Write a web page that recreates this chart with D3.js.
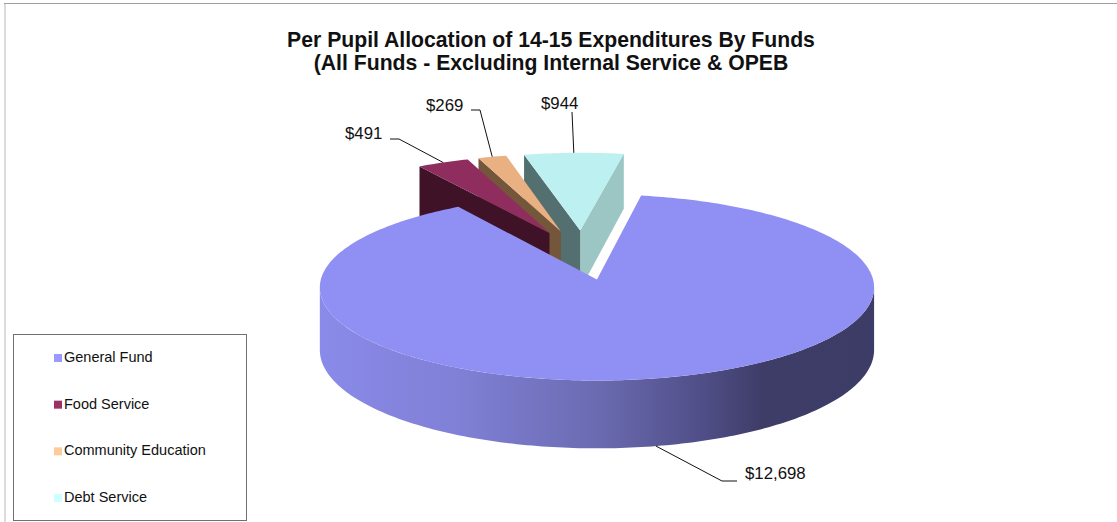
<!DOCTYPE html>
<html>
<head>
<meta charset="utf-8">
<script src="https://cdn.jsdelivr.net/npm/d3@7"></script>
<style>
  html, body { margin: 0; padding: 0; background: #fff; }
  svg { display: block; }
  text { font-family: "Liberation Sans", Arial, sans-serif; fill: #111; }
</style>
</head>
<body>
<div id="chart"></div>
<script>
// chart data
var titleLines = ["Per Pupil Allocation of 14-15 Expenditures By Funds", "(All Funds - Excluding Internal Service & OPEB"];
var categories = ["General Fund", "Food Service", "Community Education", "Debt Service"];
var values = [12698, 491, 269, 944];
var valueLabels = ["$12,698", "$491", "$269", "$944"];
var legendColors = ["#9999ff", "#993366", "#ffcc99", "#ccffff"];
var topColors = ["#9090f4", "#8f2d5f", "#e9b082", "#bdf1f1"];
var leftFaceColors = [null, "#3f1227", "#74563a", "#546f70"];
var rightFaceColors = [null, null, null, "#9cc6c4"];

var W = 1117, H = 522;

var svg = d3.select("#chart").append("svg").attr("width", W).attr("height", H);

// frame, only top and left show in the picture
svg.append("rect").attr("x", 4).attr("y", 3).attr("width", 2).attr("height", H - 3).attr("fill", "#dcdcdc");
svg.append("rect").attr("x", 4).attr("y", 3).attr("width", W - 4).attr("height", 1).attr("fill", "#a0a0a0");

// title
svg.selectAll(".title").data(titleLines).enter().append("text")
    .attr("class", "title")
    .attr("x", 551)
    .attr("y", function(d, i) { return 47 + i * 23; })
    .attr("text-anchor", "middle")
    .style("font-size", "21.2px")
    .style("font-weight", "bold")
    .text(function(d) { return d; });

// pie in plane units, unit circle radius
var toRad = Math.PI / 180;
var pie = d3.pie().sort(null)
    .startAngle(10 * toRad)
    .endAngle(370 * toRad);
var arcs = pie(values);

// perspective view of the plane, front of the pie is bigger than the back
var view = { x: 597, y: 279, ax: 276, ay: 92.3, k: 0.086, depth: 62 };
var explode = 0.28;
var centerU = -0.055, centerV = -0.27; // undisplaced pie centre, relative to the view origin

function project(u, v, low) {
    var w = 1 - view.k * v;
    return [view.x + view.ax * u / w,
            view.y + view.ay * v / w + (low ? view.depth / w : 0)];
}

// point of slice d at angle a and radius r (0 is the tip)
function slicePoint(d, a, r, low) {
    var mid = (d.startAngle + d.endAngle) / 2;
    var u = centerU + explode * Math.sin(mid) + r * Math.sin(a);
    var v = centerV - explode * Math.cos(mid) - r * Math.cos(a);
    return project(u, v, low);
}

function arcPoints(d, low, a0, a1) {
    var n = Math.max(4, Math.ceil((a1 - a0) / toRad));
    return d3.range(n + 1).map(function(i) {
        return slicePoint(d, a0 + (a1 - a0) * i / n, 1, low);
    });
}

var line = d3.line().curve(d3.curveLinear);

var defs = svg.append("defs");
var sideGrad = defs.append("linearGradient").attr("id", "sideGrad")
    .attr("gradientUnits", "userSpaceOnUse")
    .attr("x1", 319).attr("x2", 873).attr("y1", 0).attr("y2", 0);
[[0, "#8a8aea"], [0.25, "#8080d6"], [0.5, "#6b6bb2"], [0.68, "#52508a"], [0.8, "#3e3d68"], [1, "#3d3c66"]]
    .forEach(function(s) { sideGrad.append("stop").attr("offset", s[0]).attr("stop-color", s[1]); });

// back slices first, General Fund goes over them
var order = [3, 2, 1, 0];
var slices = svg.selectAll(".slice").data(order.map(function(i) { return arcs[i]; })).enter()
    .append("g").attr("class", "slice");

slices.each(function(d) {
    var g = d3.select(this);
    var i = d.index;
    var tipTop = slicePoint(d, d.startAngle, 0, false);
    var tipLow = slicePoint(d, d.startAngle, 0, true);

    if (rightFaceColors[i]) {
        g.append("path")
            .attr("fill", rightFaceColors[i])
            .attr("d", line([tipTop, slicePoint(d, d.endAngle, 1, false), slicePoint(d, d.endAngle, 1, true), tipLow]) + "Z");
    }
    if (leftFaceColors[i]) {
        g.append("path")
            .attr("fill", leftFaceColors[i])
            .attr("d", line([tipTop, slicePoint(d, d.startAngle, 1, false), slicePoint(d, d.startAngle, 1, true), tipLow]) + "Z");
    }
    if (i === 0) {
        // outer wall, only the front half between the two silhouette angles
        var a0 = Math.acos(-view.k), a1 = 2 * Math.PI - a0;
        g.append("path")
            .attr("fill", "url(#sideGrad)")
            .attr("d", line(arcPoints(d, false, a0, a1).concat(arcPoints(d, true, a0, a1).reverse())) + "Z");
    }
    g.append("path")
        .attr("fill", topColors[i])
        .attr("d", line([tipTop].concat(arcPoints(d, false, d.startAngle, d.endAngle))) + "Z");
});

// data labels with leader lines
var labelLayout = [
    { tx: 745, ty: 479, elbowX: 722, elbowY: 481, endX: 737, low: true },
    { tx: 345, ty: 139, elbowX: 399, elbowY: 139, endX: 390, low: false },
    { tx: 426, ty: 111, elbowX: 480, elbowY: 110, endX: 471, low: false },
    { tx: 541, ty: 109, elbowX: 572, elbowY: 112, endX: 572, low: false }
];

arcs.forEach(function(d, i) {
    var l = labelLayout[i];
    var mid = (d.startAngle + d.endAngle) / 2;
    var p = slicePoint(d, mid, 1, l.low);
    svg.append("path")
        .attr("fill", "none")
        .attr("stroke", "#111")
        .attr("stroke-width", 1)
        .attr("d", line([p, [l.elbowX, l.elbowY], [l.endX, l.elbowY]]));
    svg.append("text")
        .attr("x", l.tx).attr("y", l.ty)
        .style("font-size", "16.8px")
        .text(valueLabels[i]);
});

// legend
var legend = svg.append("g");
legend.append("rect")
    .attr("x", 13.5).attr("y", 334.5).attr("width", 233).attr("height", 186)
    .attr("fill", "#fff").attr("stroke", "#707070");

var legendY = d3.scalePoint().domain(categories).range([357, 497]);

var rows = legend.selectAll(".row").data(categories).enter().append("g").attr("class", "row");
rows.append("rect")
    .attr("x", 54).attr("width", 8).attr("height", 8)
    .attr("y", function(d) { return legendY(d) - 3; })
    .attr("fill", function(d, i) { return legendColors[i]; });
rows.append("text")
    .attr("x", 64)
    .attr("y", function(d) { return legendY(d) + 5; })
    .style("font-size", "14.5px")
    .text(function(d) { return d; });
</script>
</body>
</html>
